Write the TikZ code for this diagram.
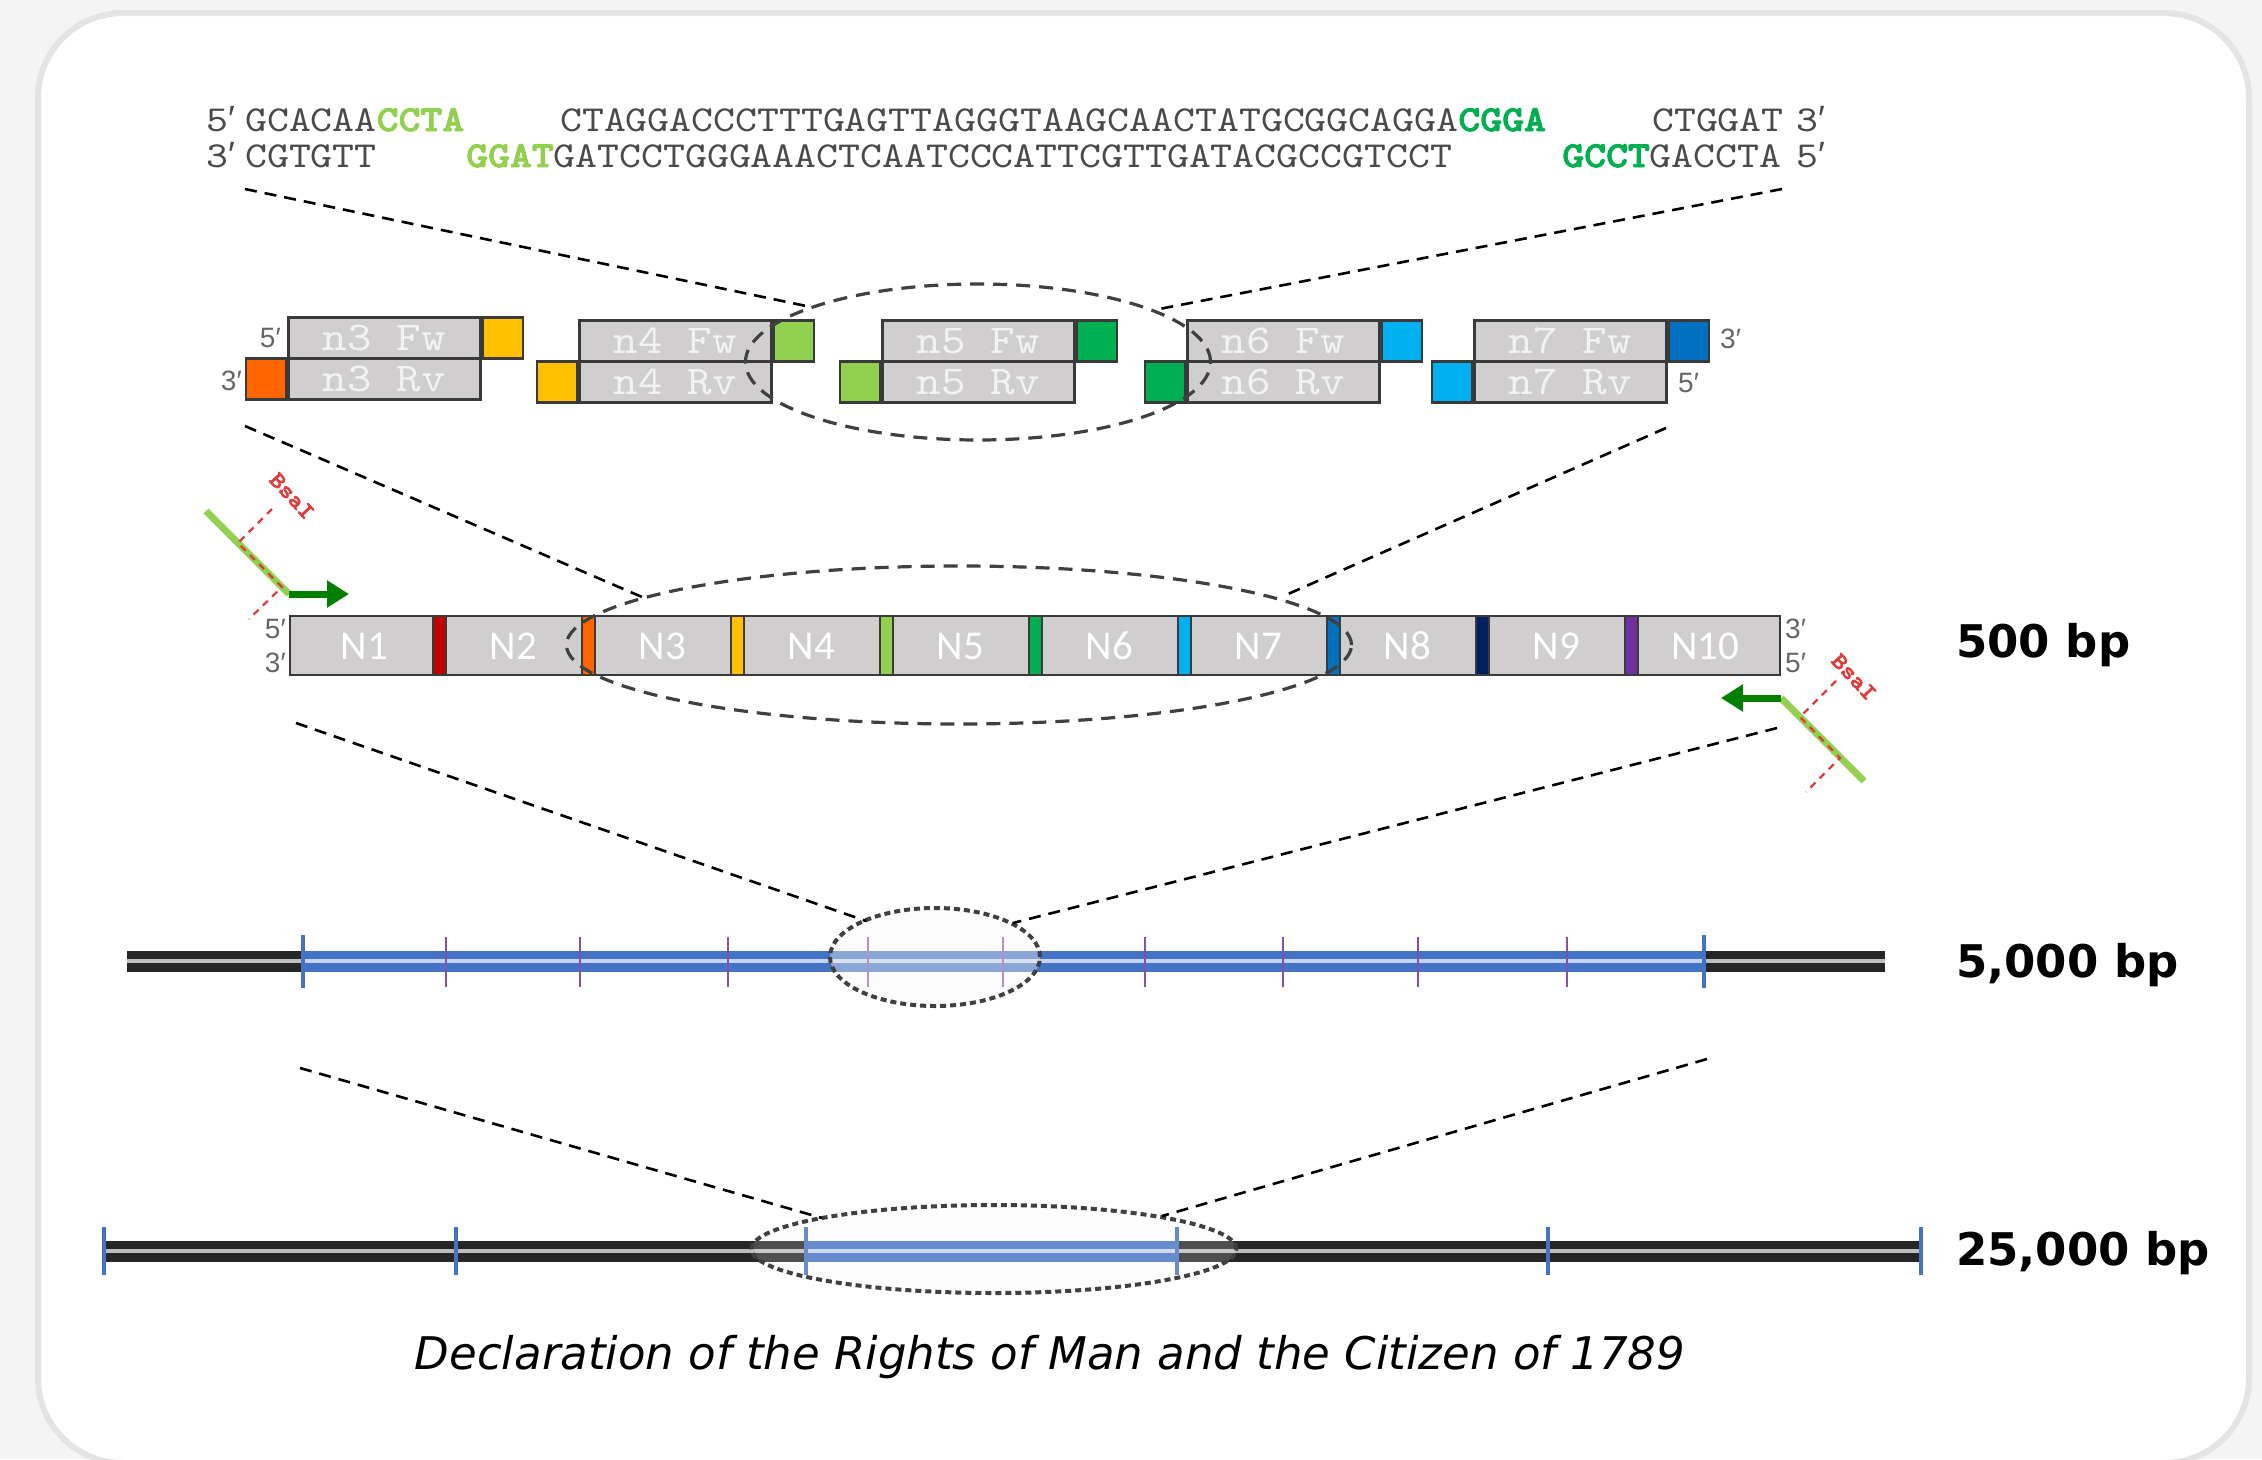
\documentclass[tikz,border=0pt]{standalone}
\usepackage{fontspec}
\usetikzlibrary{arrows.meta,shapes.geometric}
% serif typewriter, widened to Courier proportions
\newfontfamily\cour{lmmono10-regular.otf}[FakeStretch=1.14,
  BoldFont=lmmonolt10-bold.otf, BoldFeatures={FakeBold=2.5}]
\newfontfamily\calfont{Carlito}
\newfontfamily\arfont{Liberation Sans}
\newfontfamily\djfont{DejaVu Sans}

\definecolor{bggray}{HTML}{F4F4F4}
\definecolor{panelline}{HTML}{E4E4E4}
\definecolor{seqgray}{HTML}{4A4A4A}
\definecolor{labgray}{HTML}{666666}
\definecolor{boxgray}{HTML}{D0CECE}
\definecolor{boxedge}{HTML}{3A3A3A}
\definecolor{boxtext}{HTML}{F2F2F2}
\definecolor{lgreen}{HTML}{92D050}
\definecolor{dgreen}{HTML}{00B050}
\definecolor{corange}{HTML}{FF6600}
\definecolor{cyellow}{HTML}{FFC000}
\definecolor{ccyan}{HTML}{00B0F0}
\definecolor{cblue}{HTML}{0070C0}
\definecolor{cred}{HTML}{C00000}
\definecolor{cnavy}{HTML}{002060}
\definecolor{cpurple}{HTML}{7030A0}
\definecolor{dnablue}{HTML}{4472C4}
\definecolor{dnablack}{HTML}{262626}
\definecolor{arrowgreen}{HTML}{008000}
\definecolor{cutred}{HTML}{E03C3C}
\definecolor{ellgray}{HTML}{404040}

\newcommand\pr{{\arfont ′}}

\begin{document}
\begin{tikzpicture}[x=1pt,y=-1pt,
  seq/.style={inner sep=0pt, anchor=base west, text=seqgray,
    font=\cour\fontsize{36.6}{40}\selectfont},
  endlab/.style={inner sep=0pt, text=labgray, font=\arfont\fontsize{28}{30}\selectfont},
  oligo/.style={draw=boxedge, line width=2.5pt, fill=boxgray, inner sep=0pt,
    minimum width=192pt, minimum height=41pt, text=boxtext,
    font=\cour\fontsize{41}{41}\selectfont},
  sticky/.style={draw=boxedge, line width=2.5pt, inner sep=0pt,
    minimum width=40pt, minimum height=41pt},
  barbox/.style={draw=boxedge, line width=2.5pt, fill=boxgray, inner sep=0pt,
    minimum width=1490pt, minimum height=59pt},
  sepbox/.style={draw=boxedge, line width=2pt, inner sep=0pt,
    minimum width=13pt, minimum height=59pt},
  nlab/.style={inner sep=0pt, text=white, font=\calfont\fontsize{41}{44}\selectfont},
  zoomline/.style={draw=black, line width=2.6pt, dash pattern=on 12pt off 8pt},
  zoomell/.style={ellipse, draw=ellgray, line width=3.2pt, inner sep=0pt,
    dash pattern=on 14pt off 9pt},
  lensell/.style={ellipse, draw=ellgray, line width=4pt, inner sep=0pt,
    dash pattern=on 6pt off 4pt, fill=black!4, draw opacity=1},
  dnablk/.style={line width=21pt, draw=dnablack,
    postaction={draw=white, line width=3.5pt, draw opacity=0.7}},
  dnablu/.style={line width=21pt, draw=dnablue,
    postaction={draw=white, line width=3.5pt, draw opacity=0.7}},
  bluetick/.style={draw=dnablue, line width=3.5pt},
  purtick/.style={draw=cpurple!85!white, line width=2.6pt},
  primer/.style={draw=lgreen, line width=7pt},
  primerarrow/.style={draw=arrowgreen, line width=7pt,
    -{Triangle[length=22pt,width=26pt]}},
  cut/.style={draw=cutred, line width=2.2pt, dash pattern=on 7pt off 6pt},
  bsa/.style={inner sep=0pt, text=cutred, font=\cour\bfseries\fontsize{23}{24}\selectfont},
  scalelab/.style={inner sep=0pt, anchor=base west, font=\djfont\bfseries\fontsize{45}{50}\selectfont}
]
\useasboundingbox (0,0) rectangle (2262,1459);

% page background and rounded panel
\fill[bggray] (0,0) rectangle (2262,1459);
\draw[draw=panelline, line width=6pt, fill=white, rounded corners=85pt]
  (38,13) rectangle (2249,1463);

% ---------- sequence with overhangs ----------
\node[seq] (p5a) at (206,131) {5\pr};
\node[seq] (s1l) at (245,131) {GCACAA\textbf{\textcolor{lgreen}{CCTA}}};
\node[seq] (s1m) at (560,131) {CTAGGACCCTTTGAGTTAGGGTAAGCAACTATGCGGCAGGA\textbf{\textcolor{dgreen}{CGGA}}};
\node[seq] (s1r) at (1652,131) {CTGGAT};
\node[seq] (p3a) at (1796,131) {3\pr};
\node[seq] (p3b) at (206,167) {3\pr};
\node[seq] (s2l) at (245,167) {CGTGTT};
\node[seq] (s2m) at (466,167) {\textbf{\textcolor{lgreen}{GGAT}}GATCCTGGGAAACTCAATCCCATTCGTTGATACGCCGTCCT};
\node[seq] (s2r) at (1562,167) {\textbf{\textcolor{dgreen}{GCCT}}GACCTA};
\node[seq] (p5b) at (1796,167) {5\pr};

% ---------- oligo pairs n3..n7 ----------
\foreach \n/\x/\y/\lc/\rc in {3/287/316/corange/cyellow, 4/578/319/cyellow/lgreen,
    5/881/319/lgreen/dgreen, 6/1186/319/dgreen/ccyan, 7/1473/319/ccyan/cblue} {
  \node[oligo, anchor=north west] (fw\n) at (\x,\y) {n\n{} Fw};
  \node[oligo, anchor=north west] (rv\n) at (\x,\y+41) {n\n{} Rv};
  \node[sticky, fill=\rc, anchor=north west] (fs\n) at (fw\n.north east) {};
  \node[sticky, fill=\lc, anchor=north east] (rs\n) at (rv\n.north west) {};
}
\node[endlab, anchor=east] (o5) at (281,338) {5′};
\node[endlab, anchor=east] (o3) at (242,381) {3′};
\node[endlab, anchor=west] (o3r) at (1720,339) {3′};
\node[endlab, anchor=west] (o5r) at (1678,383) {5′};

\node[zoomell, minimum width=465pt, minimum height=156pt] (e1) at (978,362) {};

% ---------- 500 bp assembly ----------
\node[barbox] (bar) at (1035,645.5) {};
\foreach \k/\c in {1/cred,2/corange,3/cyellow,4/lgreen,5/dgreen,6/ccyan,7/cblue,8/cnavy,9/cpurple}
  \node[sepbox, fill=\c] (sep\k) at ({290+149*\k},645.5) {};
\foreach \k in {1,...,10}
  \node[nlab] (N\k) at ({290+149*(\k-0.5)},646) {N\k};
\node[endlab, anchor=east] (b5) at (286,629) {5′};
\node[endlab, anchor=east] (b3) at (286,663) {3′};
\node[endlab, anchor=west] (b3r) at (1785,629) {3′};
\node[endlab, anchor=west] (b5r) at (1785,663) {5′};

\node[zoomell, minimum width=785pt, minimum height=158pt] (e2) at (959,645) {};

% primers with BsaI sites
\coordinate (lpA) at (206,511);
\coordinate (lpB) at (289,594);
\coordinate (lpC) at (349,594);
\draw[primer] (lpA) -- (lpB);
\draw[primerarrow] (lpB) -- (lpC);
\draw[cut] (272,509) -- (238,543) -- (282,587) -- (249,619);
\node[bsa, rotate=-47] (bsaL) at (292,496) {BsaI};

\coordinate (rpA) at (1864,781);
\coordinate (rpB) at (1781,698);
\coordinate (rpC) at (1721,698);
\draw[primer] (rpA) -- (rpB);
\draw[primerarrow] (rpB) -- (rpC);
\draw[cut] (1836,681) -- (1800,717) -- (1840,758) -- (1806,792);
\node[bsa, rotate=-47] (bsaR) at (1854,677) {BsaI};

% ---------- 5,000 bp ----------
\coordinate (m0) at (127,961);
\coordinate (m1) at (303,961);
\coordinate (m2) at (1704,961);
\coordinate (m3) at (1885,961);
\draw[dnablk] (m0) -- (m1);
\draw[dnablu] (m1) -- (m2);
\draw[dnablk] (m2) -- (m3);
\foreach \t in {303,1704} \draw[bluetick] (\t,935) -- (\t,988);
\foreach \t in {446,580,728,868,1003,1145,1283,1418,1567} \draw[purtick] (\t,937) -- (\t,987);
\node[lensell, fill opacity=0.4, minimum width=210pt, minimum height=98pt] (e3) at (935,957) {};

% ---------- 25,000 bp ----------
\coordinate (g0) at (104,1251);
\coordinate (g1) at (806,1251);
\coordinate (g2) at (1177,1251);
\coordinate (g3) at (1923,1251);
\draw[dnablk] (g0) -- (g3);
\draw[dnablu] (g1) -- (g2);
\foreach \t in {104,456,806,1177,1548,1921} \draw[bluetick] (\t,1227) -- (\t,1275);
\node[lensell, fill opacity=0.2, minimum width=485pt, minimum height=88pt] (e4) at (994,1249) {};

% ---------- zoom connectors ----------
\coordinate (z1a) at (245,189);  \coordinate (z1b) at (811,307);
\coordinate (z2a) at (1782,189); \coordinate (z2b) at (1154,310);
\coordinate (z3a) at (245,426);  \coordinate (z3b) at (642,597);
\coordinate (z4a) at (1666,428); \coordinate (z4b) at (1288,594);
\coordinate (z5a) at (296,723);  \coordinate (z5b) at (866,921);
\coordinate (z6a) at (1777,728); \coordinate (z6b) at (1013,923);
\coordinate (z7a) at (300,1068); \coordinate (z7b) at (822,1218);
\coordinate (z8a) at (1707,1059);\coordinate (z8b) at (1162,1216);
\foreach \p in {1,...,8} \draw[zoomline] (z\p a) -- (z\p b);

% ---------- scale labels and caption ----------
\node[scalelab] (l500) at (1956,657) {500 bp};
\node[scalelab] (l5k) at (1956,977) {5,000 bp};
\node[scalelab] (l25k) at (1956,1265) {25,000 bp};
\node[inner sep=0pt, anchor=base, font=\djfont\itshape\fontsize{45}{52}\selectfont] (cap)
  at (1050,1369) {Declaration of the Rights of Man and the Citizen of 1789};
\end{tikzpicture}
\end{document}
